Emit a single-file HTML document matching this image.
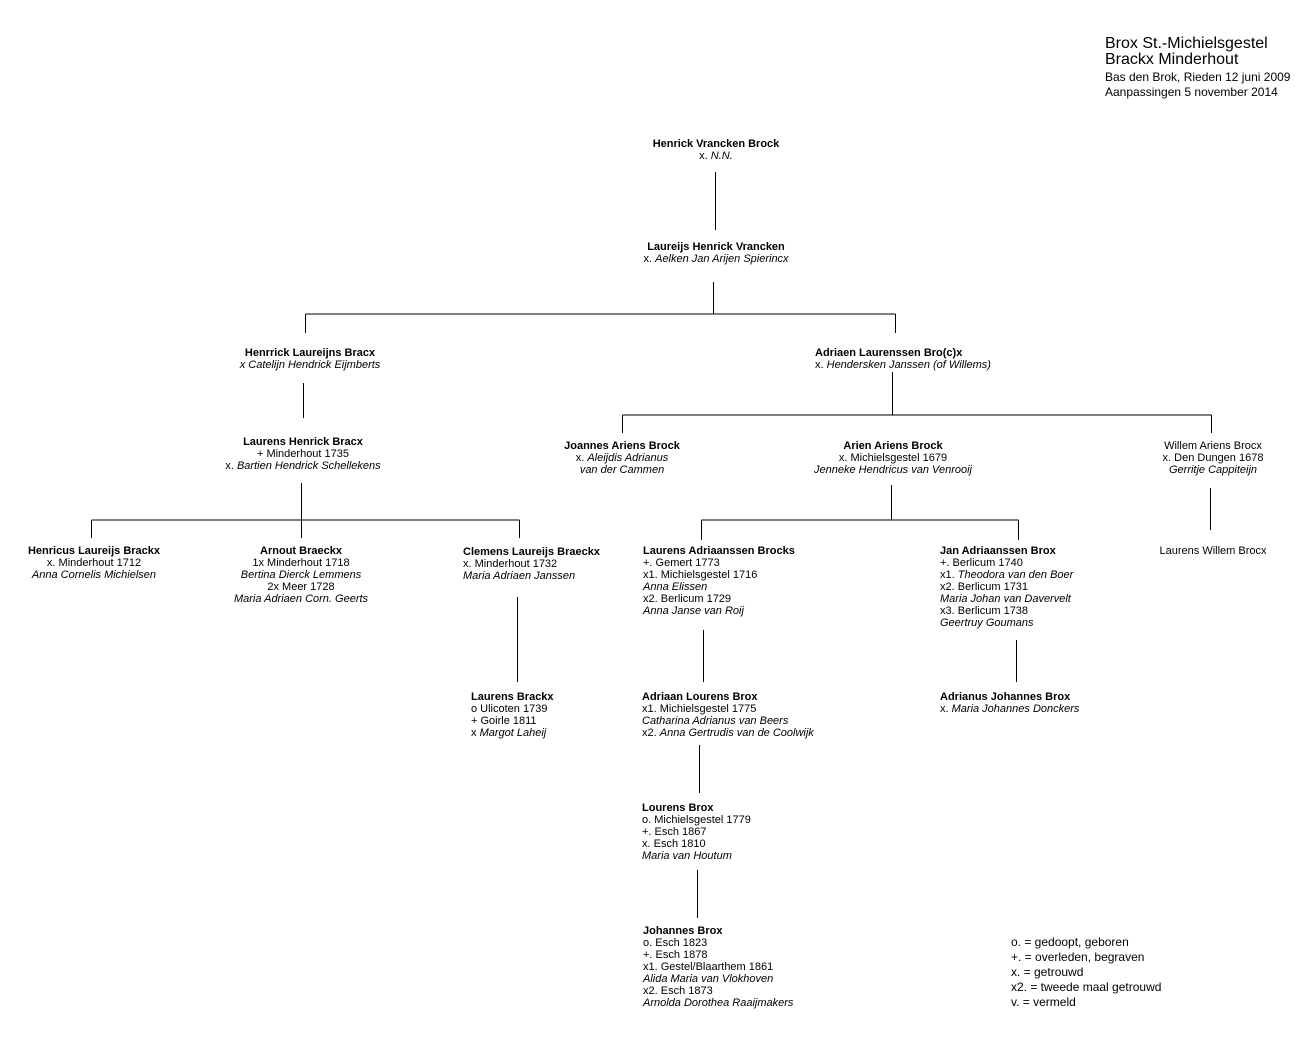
<!DOCTYPE html>
<html><head><meta charset="utf-8"><style>
body{margin:0;width:1312px;height:1063px;background:#fff;position:relative;font-family:"Liberation Sans",sans-serif;color:#000;overflow:hidden}
.n{position:absolute;font-size:11px;line-height:12px;white-space:nowrap;letter-spacing:0;margin-top:1px}
.c{text-align:center;transform:translateX(-50%)}
b{font-weight:bold}
i{font-style:italic}
.h{position:absolute;left:1105px;top:36px;white-space:nowrap}
.lg{position:absolute;left:1011px;top:935px;font-size:12px;line-height:15px;white-space:nowrap}
svg{position:absolute;left:0;top:0}
</style></head><body>
<svg width="1312" height="1063" stroke="#000" stroke-width="1" fill="none" shape-rendering="crispEdges">
<path d="M715.5 172V230"/>
<path d="M713.5 282V314M305.5 314H895.5M305.5 314V333M895.5 314V333"/>
<path d="M303.5 383V418"/>
<path d="M301.5 483V538M91.5 520H519.5M91.5 520V538M519.5 520V538"/>
<path d="M517.5 597V682"/>
<path d="M892.5 372V415M622.5 415H1211.5M622.5 415V433M1211.5 415V433"/>
<path d="M891.5 485V520M701.5 520H1018.5M701.5 520V540M1018.5 520V540"/>
<path d="M1210.5 488V530"/>
<path d="M703.5 630V682M1016.5 640V682M699.5 745V793M697.5 870V918"/>
</svg>
<div class="h"><div style="font-size:16px;line-height:16px">Brox St.-Michielsgestel</div><div style="font-size:16px;line-height:16px">Brackx Minderhout</div><div style="font-size:12px;line-height:15px;margin-top:2px">Bas den Brok, Rieden 12 juni 2009<br>Aanpassingen 5 november 2014</div></div>

<div class="n c" style="left:716px;top:137px"><b>Henrick Vrancken Brock</b><br>x. <i>N.N.</i></div>
<div class="n c" style="left:716px;top:240px"><b>Laureijs Henrick Vrancken</b><br>x. <i>Aelken Jan Arijen Spierincx</i></div>
<div class="n c" style="left:310px;top:346px"><b>Henrrick Laureijns Bracx</b><br><i>x Catelijn Hendrick Eijmberts</i></div>
<div class="n" style="left:815px;top:346px"><b>Adriaen Laurenssen Bro(c)x</b><br>x. <i>Hendersken Janssen (of Willems)</i></div>
<div class="n c" style="left:303px;top:435px"><b>Laurens Henrick Bracx</b><br>+ Minderhout 1735<br>x. <i>Bartien Hendrick Schellekens</i></div>
<div class="n c" style="left:622px;top:439px"><b>Joannes Ariens Brock</b><br>x. <i>Aleijdis Adrianus</i><br><i>van der Cammen</i></div>
<div class="n c" style="left:893px;top:439px"><b>Arien Ariens Brock</b><br>x. Michielsgestel 1679<br><i>Jenneke Hendricus van Venrooij</i></div>
<div class="n c" style="left:1213px;top:439px">Willem Ariens Brocx<br>x. Den Dungen 1678<br><i>Gerritje Cappiteijn</i></div>
<div class="n c" style="left:94px;top:544px"><b>Henricus Laureijs Brackx</b><br>x. Minderhout 1712<br><i>Anna Cornelis Michielsen</i></div>
<div class="n c" style="left:301px;top:544px"><b>Arnout Braeckx</b><br>1x Minderhout 1718<br><i>Bertina Dierck Lemmens</i><br>2x Meer 1728<br><i>Maria Adriaen Corn. Geerts</i></div>
<div class="n" style="left:463px;top:545px"><b>Clemens Laureijs Braeckx</b><br>x. Minderhout 1732<br><i>Maria Adriaen Janssen</i></div>
<div class="n" style="left:643px;top:544px"><b>Laurens Adriaanssen Brocks</b><br>+. Gemert 1773<br>x1. Michielsgestel 1716<br><i>Anna Elissen</i><br>x2. Berlicum 1729<br><i>Anna Janse van Roij</i></div>
<div class="n" style="left:940px;top:544px"><b>Jan Adriaanssen Brox</b><br>+. Berlicum 1740<br>x1. <i>Theodora van den Boer</i><br>x2. Berlicum 1731<br><i>Maria Johan van Davervelt</i><br>x3. Berlicum 1738<br><i>Geertruy Goumans</i></div>
<div class="n c" style="left:1213px;top:544px">Laurens Willem Brocx</div>
<div class="n" style="left:471px;top:690px"><b>Laurens Brackx</b><br>o Ulicoten 1739<br>+ Goirle 1811<br>x <i>Margot Laheij</i></div>
<div class="n" style="left:642px;top:690px"><b>Adriaan Lourens Brox</b><br>x1. Michielsgestel 1775<br><i>Catharina Adrianus van Beers</i><br>x2. <i>Anna Gertrudis van de Coolwijk</i></div>
<div class="n" style="left:940px;top:690px"><b>Adrianus Johannes Brox</b><br>x. <i>Maria Johannes Donckers</i></div>
<div class="n" style="left:642px;top:801px"><b>Lourens Brox</b><br>o. Michielsgestel 1779<br>+. Esch 1867<br>x. Esch 1810<br><i>Maria van Houtum</i></div>
<div class="n" style="left:643px;top:924px"><b>Johannes Brox</b><br>o. Esch 1823<br>+. Esch 1878<br>x1. Gestel/Blaarthem 1861<br><i>Alida Maria van Vlokhoven</i><br>x2. Esch 1873<br><i>Arnolda Dorothea Raaijmakers</i></div>
<div class="lg">o. = gedoopt, geboren<br>+. = overleden, begraven<br>x. = getrouwd<br>x2. = tweede maal getrouwd<br>v. = vermeld</div>
</body></html>
